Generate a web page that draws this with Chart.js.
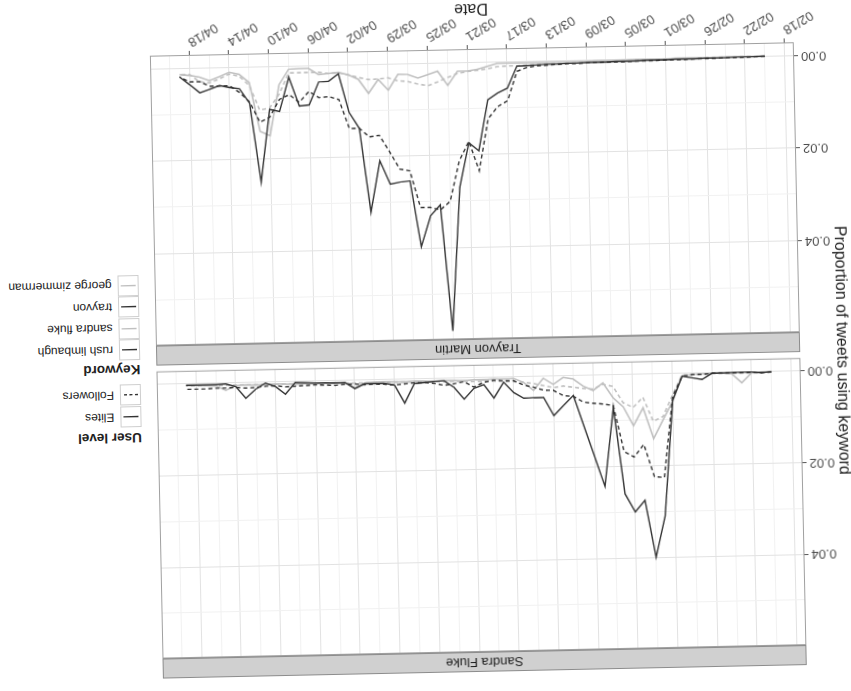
<!DOCTYPE html>
<html>
<head>
<meta charset="utf-8">
<script src="https://cdn.jsdelivr.net/npm/chart.js@4.4.1/dist/chart.umd.min.js"></script>
<style>
    html, body { margin: 0; padding: 0; background: #fff; }
    body { width: 851px; height: 691px; overflow: hidden; position: relative; font-family: "Liberation Sans", Arial, sans-serif; }
    /* the photographed page is upside down and slightly skewed */
    #page { position: absolute; left: 0; top: 0; width: 851px; height: 691px; transform: rotate(178.8deg); transform-origin: 50% 50%; background: #fff; }
    #sandraBox { position: absolute; left: 0; top: 0; }
    #trayvonBox { position: absolute; left: 0; top: 331px; }
    canvas { display: block; }
    #yTitle { position: absolute; left: 9px; top: 332px; transform: translate(-50%, -50%) rotate(-90deg); white-space: nowrap; font-size: 16px; color: #222; }
    .lg { position: absolute; left: 711px; width: max-content; height: 20px; display: flex; align-items: center; color: #222; white-space: nowrap; }
    .lg-title { font-size: 13.5px; font-weight: bold; }
    .lg-key { flex: 0 0 auto; width: 19px; height: 19px; border: 1px solid #cfcfcf; }
    .lg-key svg { display: block; }
    .lg-text { font-size: 12px; margin-left: 6px; }
</style>
</head>
<body>
<div id="page">
    <div id="sandraBox"><canvas id="sandraChart" width="700" height="336"></canvas></div>
    <div id="trayvonBox"><canvas id="trayvonChart" width="700" height="360"></canvas></div>
    <div id="yTitle">Proportion of tweets using keyword</div>
    <div id="legend"></div>
</div>
<script>
// Days covered (2012)
const dates = [
    "02/20", "02/21", "02/22", "02/23", "02/24", "02/25", "02/26", "02/27", "02/28", "02/29",
    "03/01", "03/02", "03/03", "03/04", "03/05", "03/06", "03/07", "03/08", "03/09", "03/10",
    "03/11", "03/12", "03/13", "03/14", "03/15", "03/16", "03/17", "03/18", "03/19", "03/20",
    "03/21", "03/22", "03/23", "03/24", "03/25", "03/26", "03/27", "03/28", "03/29", "03/30",
    "03/31", "04/01", "04/02", "04/03", "04/04", "04/05", "04/06", "04/07", "04/08", "04/09",
    "04/10", "04/11", "04/12", "04/13", "04/14", "04/15", "04/16", "04/17", "04/18", "04/19"
];
const tickLabels = ["02/18", "02/22", "02/26", "03/01", "03/05", "03/09", "03/13", "03/17",
    "03/21", "03/25", "03/29", "04/02", "04/06", "04/10", "04/14", "04/18"];
const yTickLabels = ["0.00", "0.02", "0.04"];

const panels = ["Sandra Fluke", "Trayvon Martin"];
const userLevels = ["Elites", "Followers"];
const keywords = ["rush limbaugh", "sandra fluke", "trayvon", "george zimmerman"];

// Sandra Fluke panel
const rushElites = [
    0.0000, 0.0002, 0.0000, 0.0000, 0.0000, 0.0001, 0.0001, 0.0014, 0.0010, 0.0006,
    0.0058, 0.0310, 0.0400, 0.0275, 0.0300, 0.0260, 0.0071, 0.0243, 0.0176, 0.0110,
    0.0043, 0.0064, 0.0086, 0.0046, 0.0046, 0.0047, 0.0034, 0.0011, 0.0045, 0.0015,
    0.0023, 0.0046, 0.0020, 0.0005, 0.0006, 0.0008, 0.0010, 0.0052, 0.0012, 0.0008,
    0.0008, 0.0008, 0.0018, 0.0004, 0.0005, 0.0004, 0.0004, 0.0003, 0.0002, 0.0027,
    0.0010, 0.0002, 0.0015, 0.0034, 0.0008, 0.0002, 0.0003, 0.0003, 0.0003, 0.0003
];
const rushFollowers = [
    0.0001, 0.0002, 0.0001, 0.0001, 0.0001, 0.0001, 0.0001, 0.0003, 0.0003, 0.0006,
    0.0050, 0.0226, 0.0224, 0.0153, 0.0180, 0.0168, 0.0067, 0.0063, 0.0061, 0.0058,
    0.0045, 0.0043, 0.0031, 0.0030, 0.0023, 0.0018, 0.0008, 0.0008, 0.0006, 0.0010,
    0.0020, 0.0008, 0.0012, 0.0015, 0.0010, 0.0008, 0.0008, 0.0010, 0.0012, 0.0010,
    0.0009, 0.0010, 0.0008, 0.0008, 0.0010, 0.0009, 0.0008, 0.0009, 0.0010, 0.0011,
    0.0008, 0.0009, 0.0011, 0.0012, 0.0010, 0.0011, 0.0011, 0.0012, 0.0012, 0.0012
];
const flukeElites = [
    0.0000, 0.0001, 0.0002, 0.0023, 0.0003, 0.0001, 0.0001, 0.0002, 0.0003, 0.0005,
    0.0060, 0.0100, 0.0141, 0.0073, 0.0112, 0.0070, 0.0050, 0.0017, 0.0033, 0.0023,
    0.0007, 0.0003, 0.0018, 0.0004, 0.0030, 0.0012, 0.0003, 0.0004, 0.0003, 0.0005,
    0.0004, 0.0006, 0.0005, 0.0004, 0.0006, 0.0005, 0.0004, 0.0006, 0.0005, 0.0004,
    0.0005, 0.0006, 0.0016, 0.0005, 0.0004, 0.0005, 0.0004, 0.0005, 0.0006, 0.0005,
    0.0004, 0.0005, 0.0006, 0.0005, 0.0006, 0.0016, 0.0006, 0.0005, 0.0004, 0.0004
];
const flukeFollowers = [
    0.0001, 0.0001, 0.0002, 0.0002, 0.0002, 0.0002, 0.0002, 0.0003, 0.0003, 0.0003,
    0.0046, 0.0093, 0.0103, 0.0050, 0.0072, 0.0061, 0.0025, 0.0020, 0.0030, 0.0028,
    0.0025, 0.0022, 0.0025, 0.0020, 0.0015, 0.0012, 0.0010, 0.0009, 0.0008, 0.0008,
    0.0008, 0.0007, 0.0007, 0.0007, 0.0007, 0.0006, 0.0006, 0.0006, 0.0006, 0.0006,
    0.0006, 0.0006, 0.0006, 0.0006, 0.0006, 0.0005, 0.0005, 0.0005, 0.0005, 0.0005,
    0.0005, 0.0005, 0.0005, 0.0005, 0.0005, 0.0005, 0.0005, 0.0005, 0.0005, 0.0005
];

// Trayvon Martin panel
const trayvonElites = [
    0.0000, 0.0001, 0.0001, 0.0001, 0.0002, 0.0002, 0.0002, 0.0003, 0.0003, 0.0003,
    0.0004, 0.0004, 0.0004, 0.0005, 0.0005, 0.0005, 0.0006, 0.0006, 0.0006, 0.0007,
    0.0007, 0.0008, 0.0008, 0.0009, 0.0010, 0.0011, 0.0058, 0.0068, 0.0082, 0.0192,
    0.0174, 0.0270, 0.0580, 0.0307, 0.0330, 0.0397, 0.0254, 0.0256, 0.0260, 0.0209,
    0.0320, 0.0138, 0.0103, 0.0019, 0.0035, 0.0036, 0.0085, 0.0087, 0.0024, 0.0098,
    0.0093, 0.0250, 0.0079, 0.0047, 0.0044, 0.0039, 0.0047, 0.0054, 0.0036, 0.0019
];
const trayvonFollowers = [
    0.0001, 0.0001, 0.0002, 0.0002, 0.0002, 0.0003, 0.0003, 0.0003, 0.0004, 0.0004,
    0.0004, 0.0005, 0.0005, 0.0005, 0.0006, 0.0006, 0.0006, 0.0007, 0.0007, 0.0008,
    0.0008, 0.0009, 0.0010, 0.0011, 0.0014, 0.0022, 0.0085, 0.0097, 0.0123, 0.0235,
    0.0171, 0.0213, 0.0300, 0.0318, 0.0312, 0.0312, 0.0232, 0.0228, 0.0190, 0.0154,
    0.0157, 0.0138, 0.0138, 0.0075, 0.0068, 0.0070, 0.0056, 0.0079, 0.0062, 0.0072,
    0.0110, 0.0120, 0.0076, 0.0055, 0.0040, 0.0040, 0.0040, 0.0030, 0.0030, 0.0019
];
const zimmermanElites = [
    0.0000, 0.0000, 0.0000, 0.0000, 0.0000, 0.0001, 0.0001, 0.0001, 0.0001, 0.0001,
    0.0002, 0.0002, 0.0002, 0.0002, 0.0003, 0.0003, 0.0003, 0.0003, 0.0004, 0.0004,
    0.0004, 0.0004, 0.0004, 0.0004, 0.0004, 0.0004, 0.0004, 0.0004, 0.0010, 0.0016,
    0.0019, 0.0019, 0.0049, 0.0018, 0.0025, 0.0032, 0.0024, 0.0023, 0.0057, 0.0033,
    0.0063, 0.0032, 0.0022, 0.0016, 0.0018, 0.0020, 0.0006, 0.0006, 0.0007, 0.0040,
    0.0150, 0.0140, 0.0034, 0.0016, 0.0011, 0.0020, 0.0028, 0.0020, 0.0016, 0.0014
];
const zimmermanFollowers = [
    0.0000, 0.0000, 0.0000, 0.0001, 0.0001, 0.0001, 0.0001, 0.0002, 0.0002, 0.0002,
    0.0002, 0.0003, 0.0003, 0.0003, 0.0003, 0.0004, 0.0004, 0.0004, 0.0005, 0.0005,
    0.0006, 0.0006, 0.0007, 0.0008, 0.0009, 0.0010, 0.0010, 0.0011, 0.0015, 0.0018,
    0.0020, 0.0024, 0.0032, 0.0041, 0.0049, 0.0045, 0.0039, 0.0037, 0.0030, 0.0032,
    0.0033, 0.0028, 0.0022, 0.0017, 0.0018, 0.0015, 0.0015, 0.0015, 0.0015, 0.0060,
    0.0090, 0.0094, 0.0040, 0.0020, 0.0015, 0.0025, 0.0033, 0.0030, 0.0014, 0.0014
];

const DARK = "#333333";
const LIGHT = "#c0c0c0";
const DASH = [4, 3];

Chart.defaults.font.family = '"Liberation Sans", Arial, sans-serif';

// days since 02/20/2012
function dayIndex(md) {
    const [m, d] = md.split("/").map(Number);
    if (m === 2) return d - 20;
    if (m === 3) return d + 9;
    return d + 40;
}

const majorX = tickLabels.map(dayIndex);
const minorX = majorX.map(v => v + 2);
const allX = majorX.concat(minorX).sort((a, b) => a - b);
const majorY = yTickLabels.map(Number);
const minorY = majorY.map(v => v + 0.01);
const allY = majorY.concat(minorY).sort((a, b) => a - b);

const xMin = -2.95, xMax = 61.95;
const yMin = -0.00285, yMax = 0.05985;

function series(values) {
    return values.map((v, i) => ({ x: dayIndex(dates[i]), y: v }));
}

function line(label, values, color, dashed) {
    return {
        label: label,
        data: series(values),
        borderColor: color,
        borderWidth: color === DARK ? 1.4 : 1.6,
        borderDash: dashed ? DASH : [],
        pointRadius: 0,
        tension: 0,
        fill: false
    };
}

// gray strip above each panel + panel border
const stripPlugin = {
    id: "strip",
    beforeDraw(chart, args, opts) {
        const { ctx, chartArea: a } = chart;
        ctx.save();
        ctx.fillStyle = "#d0d0d0";
        ctx.fillRect(a.left, a.top - 20, a.right - a.left, 20);
        ctx.strokeStyle = "#8c8c8c";
        ctx.lineWidth = 1;
        ctx.strokeRect(a.left + 0.5, a.top - 19.5, a.right - a.left - 1, 19);
        ctx.fillStyle = "#1c1c1c";
        ctx.font = '13px "Liberation Sans", Arial, sans-serif';
        ctx.textAlign = "center";
        ctx.textBaseline = "middle";
        ctx.fillText(opts.text, (a.left + a.right) / 2, a.top - 9.5);
        ctx.restore();
    },
    afterDatasetsDraw(chart) {
        const { ctx, chartArea: a } = chart;
        ctx.save();
        ctx.strokeStyle = "#a0a0a0";
        ctx.lineWidth = 1;
        ctx.strokeRect(a.left + 0.5, a.top + 0.5, a.right - a.left - 1, a.bottom - a.top - 1);
        ctx.restore();
    }
};

function panelOptions(title, showX) {
    return {
        responsive: false,
        animation: false,
        layout: { padding: { top: showX ? 20 : 38, right: 5, bottom: 0, left: 0 } },
        plugins: {
            legend: { display: false },
            tooltip: { enabled: false },
            strip: { text: title }
        },
        scales: {
            x: {
                type: "linear",
                min: xMin,
                max: xMax,
                afterBuildTicks: axis => { axis.ticks = allX.map(v => ({ value: v })); },
                afterFit: axis => { axis.height = showX ? 50 : 8; },
                border: { display: false },
                grid: {
                    color: ctx => majorX.includes(ctx.tick && ctx.tick.value) ? "#e2e2e2" : "#f1f1f1",
                    drawTicks: showX,
                    tickLength: 4,
                    tickColor: ctx => majorX.includes(ctx.tick && ctx.tick.value) ? "#555" : "rgba(0,0,0,0)"
                },
                ticks: {
                    display: showX,
                    autoSkip: false,
                    minRotation: 30,
                    maxRotation: 30,
                    padding: 1,
                    color: "#4a4a4a",
                    font: { size: 13 },
                    callback: v => {
                        const k = majorX.indexOf(v);
                        return k >= 0 ? tickLabels[k] : "";
                    }
                },
                title: {
                    display: showX,
                    text: "Date",
                    color: "#222",
                    font: { size: 16 },
                    padding: { top: 0, bottom: 0 }
                }
            },
            y: {
                min: yMin,
                max: yMax,
                afterBuildTicks: axis => { axis.ticks = allY.map(v => ({ value: v })); },
                afterFit: axis => { axis.width = 51; },
                border: { display: false },
                grid: {
                    color: ctx => (ctx.tick && Math.round(ctx.tick.value * 100) % 2 === 0) ? "#e2e2e2" : "#f1f1f1",
                    tickLength: 4,
                    tickColor: ctx => (ctx.tick && Math.round(ctx.tick.value * 100) % 2 === 0) ? "#555" : "rgba(0,0,0,0)"
                },
                ticks: {
                    autoSkip: false,
                    padding: 3,
                    color: "#4a4a4a",
                    font: { size: 13 },
                    callback: v => {
                        const k = majorY.findIndex(m => Math.abs(m - v) < 1e-9);
                        return k >= 0 ? yTickLabels[k] : "";
                    }
                }
            }
        }
    };
}

new Chart(document.getElementById("sandraChart"), {
    type: "line",
    data: {
        datasets: [
            line("rush limbaugh / Elites", rushElites, DARK, false),
            line("rush limbaugh / Followers", rushFollowers, DARK, true),
            line("sandra fluke / Elites", flukeElites, LIGHT, false),
            line("sandra fluke / Followers", flukeFollowers, LIGHT, true)
        ]
    },
    options: panelOptions(panels[0], false),
    plugins: [stripPlugin]
});

new Chart(document.getElementById("trayvonChart"), {
    type: "line",
    data: {
        datasets: [
            line("trayvon / Elites", trayvonElites, DARK, false),
            line("trayvon / Followers", trayvonFollowers, DARK, true),
            line("george zimmerman / Elites", zimmermanElites, LIGHT, false),
            line("george zimmerman / Followers", zimmermanFollowers, LIGHT, true)
        ]
    },
    options: panelOptions(panels[1], true),
    plugins: [stripPlugin]
});

// Legend (linetype guide, then colour guide); row centres in page px
function keySvg(color, dashed) {
    const dash = dashed ? ' stroke-dasharray="3,2.5"' : "";
    return '<svg width="19" height="19"><line x1="2" y1="9.5" x2="17" y2="9.5" stroke="' + color +
        '" stroke-width="1.4"' + dash + '/></svg>';
}
const legend = document.getElementById("legend");
const keyColors = [DARK, LIGHT, DARK, LIGHT];
const userRows = [280, 302];
const keywordRows = [347, 368.5, 390, 411.5];
let html = '<div class="lg lg-title" style="top:' + (259 - 10) + 'px">User level</div>';
userLevels.forEach((u, i) => {
    html += '<div class="lg" style="top:' + (userRows[i] - 10) + 'px"><div class="lg-key">' +
        keySvg(DARK, i === 1) + '</div><div class="lg-text">' + u + '</div></div>';
});
html += '<div class="lg lg-title" style="top:' + (327 - 10) + 'px">Keyword</div>';
keywords.forEach((k, i) => {
    html += '<div class="lg" style="top:' + (keywordRows[i] - 10) + 'px"><div class="lg-key">' +
        keySvg(keyColors[i], false) + '</div><div class="lg-text">' + k + '</div></div>';
});
legend.innerHTML = html;
</script>
</body>
</html>
